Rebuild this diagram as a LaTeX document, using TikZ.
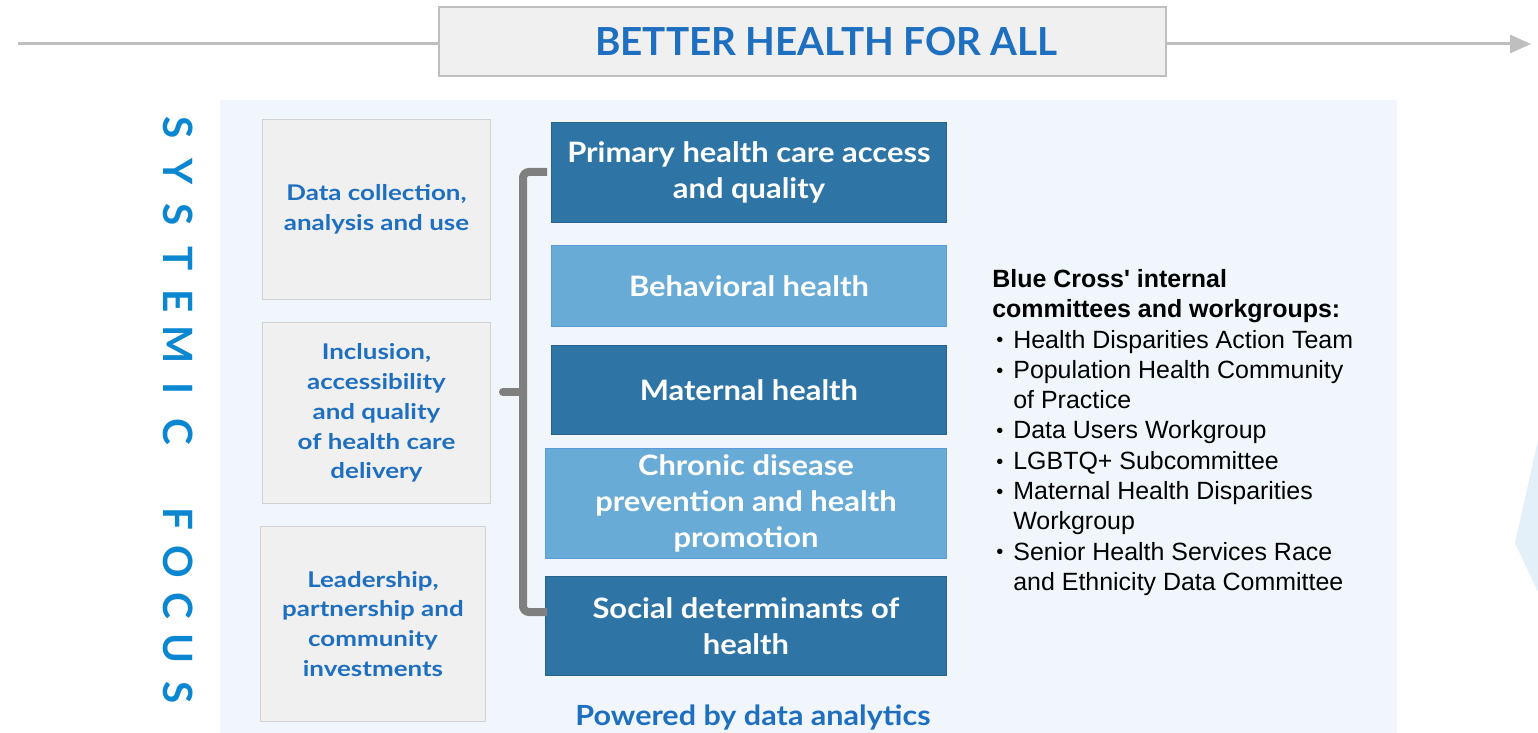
\documentclass[tikz,border=0pt]{standalone}
\usepackage{fontspec}
\setmainfont{Lato}
\newfontfamily\arialfont{Liberation Sans}
\newfontfamily\widefont{Lato}[FakeStretch=1.2]
\newfontfamily\areafont{Lato}[FakeStretch=1.1]
\usetikzlibrary{arrows.meta}

\definecolor{darkbox}{RGB}{46,117,166}
\definecolor{lightbox}{RGB}{103,171,214}
\definecolor{panelblue}{RGB}{240,246,251}
\definecolor{graybox}{RGB}{240,240,240}
\definecolor{grayline}{RGB}{191,191,191}
\definecolor{textblue}{RGB}{30,111,192}
\definecolor{focusblue}{RGB}{11,134,208}
\definecolor{bracketgray}{RGB}{127,127,127}
\definecolor{faintblue}{RGB}{227,240,249}

\newcommand{\itemdot}{\makebox[0.42cm][l]{\hspace{0.08cm}\raisebox{0.05em}{\scalebox{0.8}{\textbullet}}}}

\tikzset{
  topbox/.style={fill=graybox, draw=grayline, line width=0.04cm, inner sep=0pt,
    minimum width=14.54cm, minimum height=1.38cm, text=textblue,
    font=\bfseries\fontsize{22}{22}\selectfont},
  focusbox/.style={fill=graybox, draw=gray!35, line width=0.02cm, inner sep=0pt,
    anchor=north west, text=textblue, align=center,
    font=\widefont\bfseries\fontsize{12.3}{17}\selectfont},
  areabox/.style={inner sep=0pt, anchor=north west, text=white, align=center,
    font=\areafont\bfseries\fontsize{16}{20.4}\selectfont, line width=0.02cm},
  areadark/.style={areabox, fill=darkbox, draw=darkbox!85!black},
  arealight/.style={areabox, fill=lightbox, draw=lightbox!90!blue},
  focusletter/.style={rotate=-90, text=focusblue, inner sep=0pt,
    font=\bfseries\fontsize{23}{23}\selectfont},
  bracketline/.style={draw=bracketgray, line width=0.16cm, rounded corners=0.12cm},
  arrowline/.style={draw=grayline, line width=0.06cm}
}

\begin{document}
\begin{tikzpicture}[x=0.02cm, y=-0.02cm]
\useasboundingbox (0,0) rectangle (1538,733);

% background panel and faint shape at the right
\fill[panelblue] (220,100) rectangle (1397,733);
\fill[faintblue] (1538,440) -- (1515,543) -- (1538,592) -- cycle;

% headline with the long arrow
\node[topbox] (title) at (802.5,41.5) {\hspace{0.96cm}BETTER HEALTH FOR ALL};
\coordinate (arrowstart) at (18,44);
\coordinate (arrowend) at (1531,44);
\draw[arrowline] (arrowstart) -- (arrowstart -| title.west);
\draw[arrowline, -{Triangle[length=0.42cm, width=0.36cm]}] (arrowend -| title.east) -- (arrowend);

% vertical label
\foreach \ch [count=\i from 0] in {S,Y,S,T,E,M,I,C}
  \node[focusletter] (sys\i) at (178,128+43.4*\i) {\ch};
\foreach \ch [count=\i from 0] in {F,O,C,U,S}
  \node[focusletter] (foc\i) at (178,518.6+43.4*\i) {\ch};

% left column
\node[focusbox, minimum width=4.56cm, minimum height=3.6cm] (data) at (262,119)
  {Data collection,\\analysis and use};
\node[focusbox, minimum width=4.56cm, minimum height=3.62cm] (inclusion) at (262,322)
  {Inclusion,\\accessibility\\and quality\\of health care\\delivery};
\node[focusbox, minimum width=4.5cm, minimum height=3.9cm] (leadership) at (260,526)
  {Leadership,\\partnership and\\community\\investments};

% middle column
\node[areadark, minimum width=7.9cm, minimum height=2cm] (primary) at (551,122)
  {Primary health care access\\and quality};
\node[arealight, minimum width=7.9cm, minimum height=1.62cm] (behavioral) at (551,245)
  {Behavioral health};
\node[areadark, minimum width=7.9cm, minimum height=1.78cm] (maternal) at (551,345)
  {Maternal health};
\node[arealight, minimum width=8.02cm, minimum height=2.2cm] (chronic) at (545,448)
  {Chronic disease\\prevention and health\\promotion};
\node[areadark, minimum width=8.02cm, minimum height=1.98cm] (social) at (545,576)
  {Social determinants of\\health};
\node[text=textblue, font=\areafont\bfseries\fontsize{15.8}{18}\selectfont] (powered) at (753,717)
  {Powered by data analytics};

% bracket
\coordinate (brtop) at (547,172);
\coordinate (brbot) at (547,612);
\coordinate (brmid) at (503,392);
\draw[bracketline] (brtop) -- (523,172) -- (523,612) -- (brbot);
\draw[bracketline, line cap=round] (523,392) -- (brmid);

% committees
\node[anchor=north west, align=left, inner sep=0pt,
  font=\arialfont\fontsize{14.2}{17.25}\selectfont] (committees) at (992,269)
  {\textbf{Blue Cross' internal}\\
   \textbf{committees and workgroups:}\\
   \itemdot Health Disparities Action Team\\
   \itemdot Population Health Community\\
   \hspace*{0.42cm}of Practice\\
   \itemdot Data Users Workgroup\\
   \itemdot LGBTQ+ Subcommittee\\
   \itemdot Maternal Health Disparities\\
   \hspace*{0.42cm}Workgroup\\
   \itemdot Senior Health Services Race\\
   \hspace*{0.42cm}and Ethnicity Data Committee};
\end{tikzpicture}
\end{document}
